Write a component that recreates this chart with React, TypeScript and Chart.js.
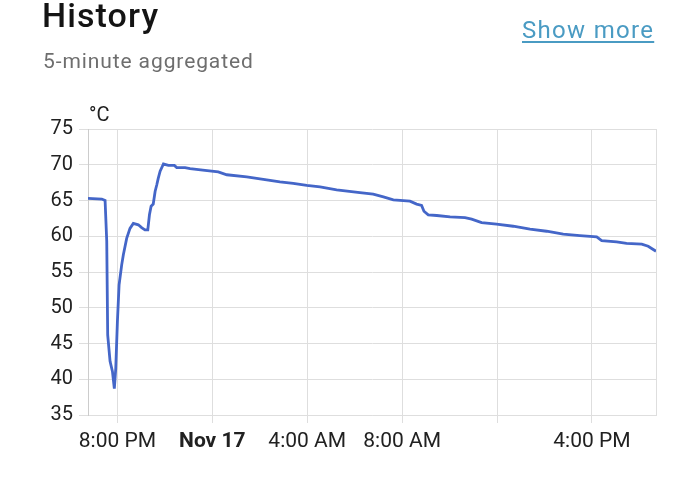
import React, { useEffect, useRef } from "react";
import { Chart, registerables } from "chart.js";

Chart.register(...registerables);

// hours relative to Nov 17, 00:00
const TIME_H = [
  -5.24, -4.66, -4.52, -4.45, -4.41, -4.31, -4.21, -4.13, -4.07, -4.0, -3.93, -3.82, -3.75, -3.61,
  -3.47, -3.33, -3.12, -2.98, -2.84, -2.72, -2.65, -2.58, -2.49, -2.41, -2.34, -2.28, -2.2, -2.06,
  -1.85, -1.6, -1.5, -1.15, -0.94, -0.31, 0.25, 0.61, 1.45, 2.29, 2.85, 3.41, 3.98, 4.54, 5.24,
  6.22, 6.78, 7.21, 7.63, 8.33, 8.61, 8.82, 8.92, 9.1, 9.46, 10.02, 10.65, 10.93, 11.35, 11.98,
  12.68, 13.39, 14.09, 14.79, 15.49, 16.2, 16.41, 17.04, 17.46, 18.1, 18.37, 18.7,
];
const TEMP_C = [
  65.3, 65.2, 65.0, 59.3, 46.2, 42.5, 41.1, 38.7, 41.5, 48.1, 53.2, 56.0, 57.4, 59.7,
  61.1, 61.8, 61.6, 61.2, 60.9, 60.9, 63.0, 64.2, 64.5, 66.3, 67.2, 68.1, 69.1, 70.1,
  69.9, 69.9, 69.6, 69.6, 69.45, 69.2, 69.0, 68.6, 68.3, 67.9, 67.6, 67.4, 67.1, 66.9, 66.5,
  66.1, 65.9, 65.5, 65.1, 64.9, 64.5, 64.3, 63.5, 63.0, 62.9, 62.7, 62.6, 62.4, 61.9, 61.7,
  61.4, 61.0, 60.7, 60.3, 60.1, 59.9, 59.4, 59.2, 59.0, 58.9, 58.6, 57.9,
];
const X_TICKS = [-4, 0, 4, 8, 12, 16];
const X_LABELS = ["8:00 PM", "Nov 17", "4:00 AM", "8:00 AM", "", "4:00 PM"];
const X_MIN = -5.24;
const X_MAX = 18.7;
const Y_MIN = 35;
const Y_MAX = 75;
const Y_STEP = 5;
const UNIT = "°C";

const TEXT = "#212121";
const GRID = "#dedede";

const extras = {
  id: "extras",
  afterDraw(chart: any) {
    const { ctx, chartArea } = chart;
    ctx.save();
    ctx.strokeStyle = GRID;
    ctx.lineWidth = 1;
    ctx.beginPath();
    ctx.moveTo(Math.round(chartArea.right) + 0.5, chartArea.top);
    ctx.lineTo(Math.round(chartArea.right) + 0.5, chartArea.bottom);
    ctx.stroke();
    ctx.fillStyle = TEXT;
    ctx.font = "20px Roboto";
    ctx.textBaseline = "alphabetic";
    ctx.fillText(UNIT, chartArea.left + 1, chartArea.top - 8);
    ctx.restore();
  },
};

export default function App() {
  const ref = useRef<HTMLCanvasElement | null>(null);
  useEffect(() => {
    if (!ref.current) return;
    Chart.defaults.font.family = "Roboto";
    const chart = new Chart(ref.current, {
      type: "line",
      data: {
        datasets: [
          {
            data: TIME_H.map((x, i) => ({ x, y: TEMP_C[i] })),
            borderColor: "#4466c8",
            borderWidth: 2.8,
            pointRadius: 0,
            tension: 0,
            fill: false,
          },
        ],
      },
      options: {
        animation: false,
        responsive: false,
        layout: { padding: { top: 129, right: 44, left: 0, bottom: 0 } },
        plugins: { legend: { display: false }, tooltip: { enabled: false } },
        scales: {
          x: {
            type: "linear",
            min: X_MIN,
            max: X_MAX,
            afterBuildTicks: (axis: any) => {
              axis.ticks = X_TICKS.map((v) => ({ value: v }));
            },
            afterFit: (scale: any) => {
              scale.height = 74;
            },
            grid: { color: GRID, tickLength: 8, drawTicks: true },
            border: { color: GRID },
            ticks: {
              autoSkip: false,
              maxRotation: 0,
              padding: 6,
              color: TEXT,
              font: (c: any) => ({
                size: 21,
                family: "Roboto",
                weight: c.tick && c.tick.value === 0 ? "bold" : "normal",
              }),
              callback: (v: any) => {
                const i = X_TICKS.indexOf(Number(v));
                return i >= 0 ? X_LABELS[i] : "";
              },
            },
          },
          y: {
            min: Y_MIN,
            max: Y_MAX,
            afterFit: (scale: any) => {
              scale.width = 88;
            },
            grid: { color: GRID, tickLength: 9 },
            border: { color: "#cccccc" },
            ticks: { stepSize: Y_STEP, padding: 6, color: TEXT, font: { size: 20, family: "Roboto" } },
          },
        },
      },
      plugins: [extras],
    });
    return () => chart.destroy();
  }, []);

  return (
    <div
      style={{
        position: "fixed",
        left: 0,
        top: 0,
        width: 700,
        height: 489,
        background: "#fff",
        fontFamily: "Roboto",
        overflow: "hidden",
      }}
    >
      <canvas ref={ref} width={700} height={489} style={{ position: "absolute", left: 0, top: 0 }} />
      <div
        style={{
          position: "absolute",
          left: 42,
          top: -2,
          fontSize: 34,
          lineHeight: "34px",
          fontWeight: 500,
          letterSpacing: "1.1px",
          color: "#141414",
        }}
      >
        History
      </div>
      <div
        style={{
          position: "absolute",
          left: 43,
          top: 51,
          fontSize: 21,
          lineHeight: "21px",
          letterSpacing: "0.9px",
          color: "#6e6e6e",
        }}
      >
        5-minute aggregated
      </div>
      <div
        style={{
          position: "absolute",
          left: 522,
          top: 18,
          fontSize: 24,
          lineHeight: "24px",
          letterSpacing: "1.3px",
          color: "#4a9bc3",
          textDecoration: "underline",
          textUnderlineOffset: "3px",
        }}
      >
        Show more
      </div>
    </div>
  );
}
